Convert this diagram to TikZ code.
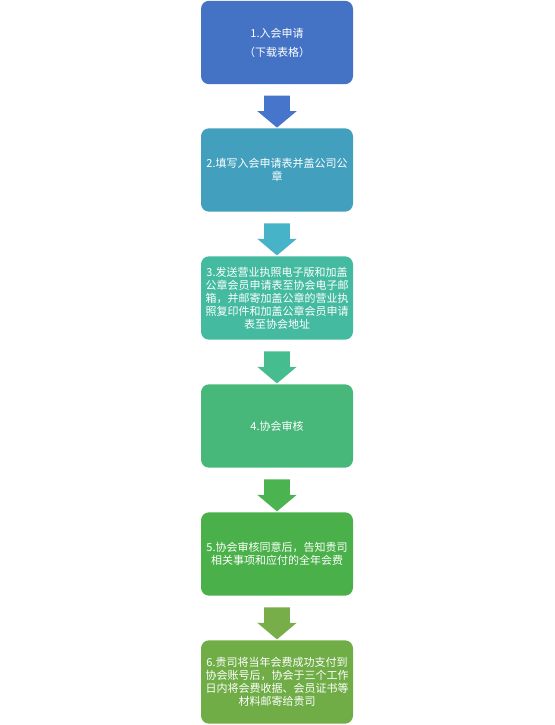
\documentclass[tikz,border=0pt]{standalone}
\usepackage{fontspec}
\setmainfont{Noto Sans CJK SC}
\usetikzlibrary{calc,shapes.arrows}
\definecolor{StepA}{HTML}{4472C4}
\definecolor{StepB}{HTML}{42A0BE}
\definecolor{StepC}{HTML}{44BAA0}
\definecolor{StepD}{HTML}{48B77A}
\definecolor{StepE}{HTML}{4AB049}
\definecolor{StepF}{HTML}{70AD47}
\definecolor{ArrowA}{HTML}{4775CB}
\definecolor{ArrowB}{HTML}{46B3C8}
\definecolor{ArrowC}{HTML}{45BD8E}
\definecolor{ArrowD}{HTML}{4BB450}
\definecolor{ArrowE}{HTML}{78AE4A}

\begin{document}
\begin{tikzpicture}[x=0.75pt,y=-0.75pt,
  stepbox/.style={rounded corners=6pt,minimum width=114pt,minimum height=62.5pt,inner sep=2pt,text=white,align=center,font=\fontsize{8.25}{9.75}\selectfont},
  downarrow/.style={single arrow,rotate=-90,minimum height=24pt,inner xsep=0pt,inner ysep=9.4pt,single arrow head extend=5.25pt,single arrow head indent=0pt,single arrow tip angle=100}]
  \useasboundingbox (0,0) rectangle (554,725);
  \node[stepbox,fill=StepA] (b1) at (277,42.5) {1.入会申请\\[4.5pt]（下载表格）};
  \node[stepbox,fill=StepB] (b2) at (277,170) {2.填写入会申请表并盖公司公\\章};
  \node[stepbox,fill=StepC] (b3) at (277,298) {3.发送营业执照电子版和加盖\\公章会员申请表至协会电子邮\\箱，并邮寄加盖公章的营业执\\照复印件和加盖公章会员申请\\表至协会地址};
  \node[stepbox,fill=StepD] (b4) at (277,426) {4.协会审核};
  \node[stepbox,fill=StepE] (b5) at (277,554) {5.协会审核同意后，告知贵司\\相关事项和应付的全年会费};
  \node[stepbox,fill=StepF] (b6) at (277,682) {6.贵司将当年会费成功支付到\\协会账号后，协会于三个工作\\日内将会费收据、会员证书等\\材料邮寄给贵司};
  % block arrows between the steps
  \foreach \i/\j/\c in {1/2/ArrowA,2/3/ArrowB,3/4/ArrowC,4/5/ArrowD,5/6/ArrowE}
    \node[downarrow,fill=\c] (a\i) at ($(b\i.south)!.5!(b\j.north)$) {};
\end{tikzpicture}
\end{document}
